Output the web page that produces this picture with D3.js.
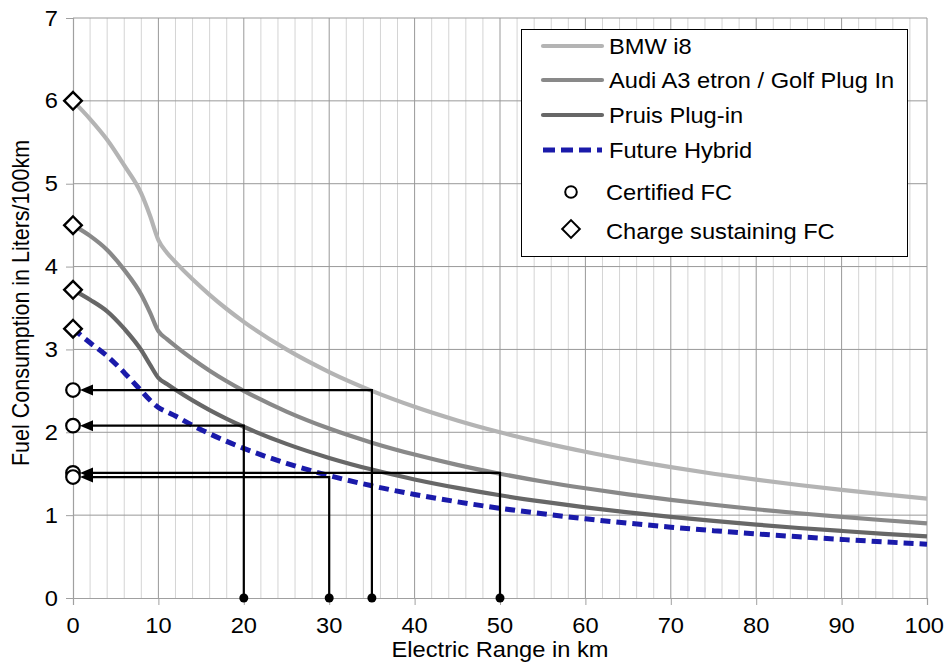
<!DOCTYPE html>
<html>
<head>
<meta charset="utf-8">
<script src="https://cdn.jsdelivr.net/npm/d3@7"></script>
<style>
  html, body { margin: 0; padding: 0; background: #fff; }
  svg { display: block; font-family: "Liberation Sans", Arial, sans-serif; }
</style>
</head>
<body>
<svg id="chart" width="945" height="671"></svg>
<script>
// ── Data ─────────────────────────────────────────────────────────────
const rangeKm = [0, 2, 4, 6, 8, 9, 10, 11, 12, 14, 16, 18, 20, 25, 30, 35, 40, 45, 50,
  55, 60, 65, 70, 75, 80, 85, 90, 95, 100];

const bmwI8 = [6.0, 5.78, 5.53, 5.22, 4.88, 4.62, 4.32, 4.167, 4.054, 3.846, 3.659, 3.488, 3.333,
  3.0, 2.727, 2.5, 2.308, 2.143, 2.0, 1.875, 1.765, 1.667, 1.579, 1.5, 1.429, 1.364, 1.304, 1.25, 1.2];
const audiGolf = [4.5, 4.37, 4.2, 3.96, 3.66, 3.45, 3.22, 3.125, 3.041, 2.885, 2.744, 2.616, 2.5,
  2.25, 2.045, 1.875, 1.731, 1.607, 1.5, 1.406, 1.324, 1.25, 1.184, 1.125, 1.071, 1.023, 0.978, 0.938, 0.9];
const priusPlugIn = [3.72, 3.6, 3.46, 3.25, 2.99, 2.82, 2.657, 2.583, 2.514, 2.385, 2.268, 2.163, 2.067,
  1.86, 1.691, 1.55, 1.431, 1.329, 1.24, 1.163, 1.094, 1.033, 0.979, 0.93, 0.886, 0.845, 0.809, 0.775, 0.744];
const futureHybrid = [3.25, 3.08, 2.92, 2.72, 2.5, 2.39, 2.3, 2.245, 2.196, 2.083, 1.982, 1.89, 1.806,
  1.625, 1.477, 1.354, 1.25, 1.161, 1.083, 1.016, 0.956, 0.903, 0.855, 0.813, 0.774, 0.739, 0.707, 0.677, 0.65];

const seriesNames = ['BMW i8', 'Audi A3 etron / Golf Plug In', 'Pruis Plug-in', 'Future Hybrid'];
const chargeSustainingFC = [6.0, 4.5, 3.72, 3.25];

const certifiedRange = [35, 20, 50, 30];
const certifiedFC = [2.51, 2.08, 1.51, 1.46];

const xTicks = [0, 10, 20, 30, 40, 50, 60, 70, 80, 90, 100];
const yTicks = [0, 1, 2, 3, 4, 5, 6, 7];

// ── Style ────────────────────────────────────────────────────────────
const SERIES_STYLE = [
  { color: '#b4b4b4', dash: null },
  { color: '#898989', dash: null },
  { color: '#676767', dash: null },
  { color: '#1a1aaa', dash: '10,6' },
];
const FONT = 21.5;
const STRETCH = 1.1; // text in the reference is a bit wider than tall

// ── Scales ───────────────────────────────────────────────────────────
const svg = d3.select('#chart');
const x = d3.scaleLinear().domain([0, 100]).range([73, 927]);
const y = d3.scaleLinear().domain([0, 7]).range([598, 18]);

function addText(parent, tx, ty, str, anchor, rot) {
  return parent.append('text')
    .attr('transform', `translate(${tx},${ty}) scale(${STRETCH},1)` + (rot ? ` rotate(${rot})` : ''))
    .attr('text-anchor', anchor)
    .attr('font-size', FONT)
    .attr('fill', '#000')
    .text(str);
}

// ── Grid ─────────────────────────────────────────────────────────────
const grid = svg.append('g');
const minor = d3.range(2, 100, 2).filter(v => v % 10 !== 0);
grid.selectAll('line.minor').data(minor).join('line')
  .attr('x1', d => x(d)).attr('x2', d => x(d))
  .attr('y1', y(7)).attr('y2', y(0))
  .attr('stroke', '#d4d4d4').attr('stroke-width', 1);
grid.selectAll('line.major').data(xTicks.slice(1)).join('line')
  .attr('x1', d => x(d)).attr('x2', d => x(d))
  .attr('y1', y(7)).attr('y2', y(0))
  .attr('stroke', '#999').attr('stroke-width', 1);
grid.selectAll('line.h').data(yTicks.slice(1)).join('line')
  .attr('x1', x(0)).attr('x2', x(100))
  .attr('y1', d => y(d)).attr('y2', d => y(d))
  .attr('stroke', '#999').attr('stroke-width', 1);

// ── Axes ─────────────────────────────────────────────────────────────
const xAxis = svg.append('g')
  .attr('transform', `translate(0,${y(0)})`)
  .call(d3.axisBottom(x).tickValues(xTicks).tickSize(7).tickFormat(''));
const yAxis = svg.append('g')
  .attr('transform', `translate(${x(0)},0)`)
  .call(d3.axisLeft(y).tickValues(yTicks).tickSize(7).tickFormat(''));
[xAxis, yAxis].forEach(a => {
  a.select('.domain').attr('stroke', '#a0a0a0').attr('stroke-width', 1.2);
  a.selectAll('.tick line').attr('stroke', '#a0a0a0');
});

// last label would run off the right edge, so pin it inside
xTicks.forEach(v => {
  if (x(v) + 21 > 945) addText(svg, 944, 633, v, 'end');
  else addText(svg, x(v), 633, v, 'middle');
});
yTicks.forEach(v => addText(svg, 58, y(v) + 7.5, v, 'end'));

addText(svg, x(50), 657, 'Electric Range in km', 'middle');
addText(svg, 29, 303, 'Fuel Consumption in Liters/100km', 'middle', -90);

// ── Curves ───────────────────────────────────────────────────────────
const lineGen = d3.line()
  .x(d => x(d[0]))
  .y(d => y(d[1]))
  .curve(d3.curveMonotoneX);

const seriesValues = [bmwI8, audiGolf, priusPlugIn, futureHybrid];
const curves = svg.append('g');
seriesValues.forEach((vals, i) => {
  const pts = rangeKm.map((r, j) => [r, vals[j]]);
  curves.append('path')
    .datum(pts)
    .attr('d', lineGen)
    .attr('fill', 'none')
    .attr('stroke', SERIES_STYLE[i].color)
    .attr('stroke-width', i === 3 ? 5 : 4.2)
    .attr('stroke-dasharray', SERIES_STYLE[i].dash)
    .attr('stroke-linejoin', 'round');
});

// ── Read-off arrows ──────────────────────────────────────────────────
const arrows = svg.append('g');
certifiedRange.forEach((r, i) => {
  const fc = certifiedFC[i];
  arrows.append('polyline')
    .attr('points', `${x(r)},${y(0)} ${x(r)},${y(fc)} ${x(0) + 18},${y(fc)}`)
    .attr('fill', 'none')
    .attr('stroke', '#000')
    .attr('stroke-width', 2.2);
  const tip = x(0) + 7;
  arrows.append('path')
    .attr('d', `M${tip},${y(fc)} L${tip + 13},${y(fc) - 5.5} L${tip + 13},${y(fc) + 5.5} Z`)
    .attr('fill', '#000');
  arrows.append('circle')
    .attr('cx', x(r)).attr('cy', y(0)).attr('r', 4.5)
    .attr('fill', '#000');
});

// ── Markers ──────────────────────────────────────────────────────────
const diamond = d3.symbol().type(d3.symbolSquare).size(155);
const markers = svg.append('g');
markers.selectAll('path.cs').data(chargeSustainingFC).join('path')
  .attr('d', diamond)
  .attr('transform', d => `translate(${x(0)},${y(d)}) rotate(45)`)
  .attr('fill', '#fff').attr('stroke', '#000').attr('stroke-width', 2.4);
markers.selectAll('circle.cert').data(certifiedFC).join('circle')
  .attr('cx', x(0)).attr('cy', d => y(d)).attr('r', 6.8)
  .attr('fill', '#fff').attr('stroke', '#000').attr('stroke-width', 2.2);

// ── Legend ───────────────────────────────────────────────────────────
const legend = svg.append('g');
legend.append('rect')
  .attr('x', 521.5).attr('y', 29.5).attr('width', 386).attr('height', 227)
  .attr('fill', '#fff').attr('stroke', '#000').attr('stroke-width', 1);

const rowY = [46, 80, 115, 150];
seriesNames.forEach((name, i) => {
  legend.append('line')
    .attr('x1', 543).attr('x2', 602)
    .attr('y1', rowY[i]).attr('y2', rowY[i])
    .attr('stroke', SERIES_STYLE[i].color)
    .attr('stroke-width', i === 3 ? 5 : 4.2)
    .attr('stroke-linecap', i === 3 ? 'butt' : 'round')
    .attr('stroke-dasharray', i === 3 ? '12,6' : null);
  addText(legend, 609, rowY[i] + 8, name, 'start');
});

legend.append('circle')
  .attr('cx', 571).attr('cy', 192).attr('r', 5.8)
  .attr('fill', '#fff').attr('stroke', '#000').attr('stroke-width', 2);
addText(legend, 606, 200, 'Certified FC', 'start');

legend.append('path')
  .attr('d', diamond)
  .attr('transform', 'translate(571,229) rotate(45)')
  .attr('fill', '#fff').attr('stroke', '#000').attr('stroke-width', 2);
addText(legend, 606, 239, 'Charge sustaining FC', 'start');
</script>
</body>
</html>
